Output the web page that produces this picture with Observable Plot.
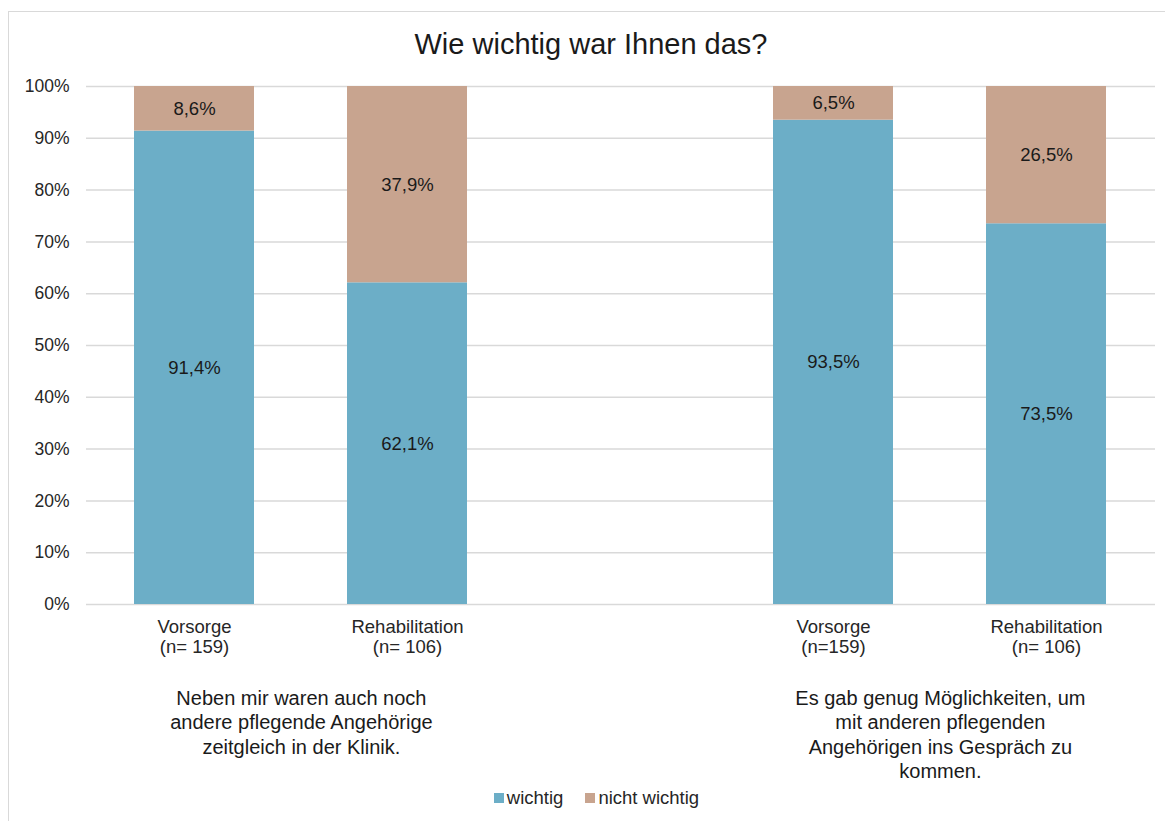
<!DOCTYPE html>
<html>
<head>
<meta charset="utf-8">
<script src="https://cdn.jsdelivr.net/npm/d3@7"></script>
<script src="https://cdn.jsdelivr.net/npm/@observablehq/plot@0.6"></script>
<style>
  html, body { margin: 0; padding: 0; background: #fff; }
  body { font-family: "Liberation Sans", Arial, sans-serif; color: #262626; }
  #frame { position: relative; width: 1165px; height: 821px; overflow: hidden; }
  #border { position: absolute; left: 8px; top: 11px; width: 1170px; height: 830px; border: 1.5px solid #d9d9d9; box-sizing: border-box; }
  #title { position: absolute; left: 8px; width: 1166px; top: 28px; text-align: center; font-size: 29px; color: #1a1a1a; }
  #chart { position: absolute; left: 0; top: 0; }
  #legend { position: absolute; left: 0; width: 1193px; top: 786px; text-align: center; font-size: 18.5px; color: #262626; }
  #legend span.item { display: inline-flex; align-items: center; margin: 0 11px; }
  #legend span.sw { display: inline-block; width: 10px; height: 10px; margin-right: 3px; }
</style>
</head>
<body>
<div id="frame">
  <div id="border"></div>
  <div id="title">Wie wichtig war Ihnen das?</div>
  <div id="chart"></div>
  <div id="legend"></div>
</div>
<script>
// Category slots along x (the middle slot stays empty to separate the two questions)
const slots = ["v1", "r1", "gap", "v2", "r2"];
const slotLabels = ["Vorsorge\n(n= 159)", "Rehabilitation\n(n= 106)", "", "Vorsorge\n(n=159)", "Rehabilitation\n(n= 106)"];

// Bars (one per survey group)
const barSlots = ["v1", "r1", "v2", "r2"];
const wichtig = [91.4, 62.1, 93.5, 73.5];
const nichtWichtig = [8.6, 37.9, 6.5, 26.5];

// Series and colours
const series = ["wichtig", "nicht wichtig"];
const colors = ["#6caec7", "#c8a48f"];

// Question texts under each pair of bars
const questionSlots = ["v1", "v2"];
const questions = [
  "Neben mir waren auch noch\nandere pflegende Angehörige\nzeitgleich in der Klinik.",
  "Es gab genug Möglichkeiten, um\nmit anderen pflegenden\nAngehörigen ins Gespräch zu\nkommen."
];

const yTicks = [0, 10, 20, 30, 40, 50, 60, 70, 80, 90, 100];

const rows = [];
barSlots.forEach((s, i) => {
  rows.push({slot: s, series: series[0], value: wichtig[i]});
  rows.push({slot: s, series: series[1], value: nichtWichtig[i]});
});
const qRows = questionSlots.map((s, i) => ({slot: s, text: questions[i]}));

const fmt = v => d3.format(".1f")(v).replace(".", ",") + "%";

const width = 1165, marginLeft = 86, marginRight = 10;
const step = (width - marginLeft - marginRight) / slots.length;
const labelMap = new Map(slots.map((s, i) => [s, slotLabels[i]]));

const plot = Plot.plot({
  width,
  height: 821,
  marginLeft,
  marginRight,
  marginTop: 86,
  marginBottom: 217,
  style: {fontFamily: "'Liberation Sans', Arial, sans-serif", color: "#262626", background: "transparent"},
  x: {type: "band", domain: slots, paddingInner: 0.435, paddingOuter: 0.2175},
  y: {domain: [0, 100]},
  color: {domain: series, range: colors},
  marks: [
    Plot.ruleY(yTicks, {stroke: "#d9d9d9", strokeWidth: 1.5}),
    Plot.barY(rows, Plot.stackY({x: "slot", y: "value", fill: "series", order: null})),
    Plot.text(rows, Plot.stackY({x: "slot", y: "value", text: d => fmt(d.value), fill: "#1a1a1a", fontSize: 18.5})),
    Plot.axisY({ticks: yTicks, tickFormat: d => d + "%", tickSize: 0, tickPadding: 17, fontSize: 17.5, label: null, fill: "#262626"}),
    Plot.axisX({tickFormat: d => labelMap.get(d), tickSize: 0, tickPadding: 14, fontSize: 18.5, lineHeight: 1.1, label: null, fill: "#262626"}),
    Plot.text(qRows, {x: "slot", y: () => 0, text: "text", dx: step / 2, dy: 83, lineAnchor: "top", lineHeight: 1.225, fontSize: 20, fill: "#1a1a1a"})
  ]
});
document.getElementById("chart").append(plot);

// Legend
const legend = document.getElementById("legend");
series.forEach((s, i) => {
  const item = document.createElement("span");
  item.className = "item";
  const sw = document.createElement("span");
  sw.className = "sw";
  sw.style.background = colors[i];
  item.append(sw, document.createTextNode(s));
  legend.append(item);
});
</script>
</body>
</html>
